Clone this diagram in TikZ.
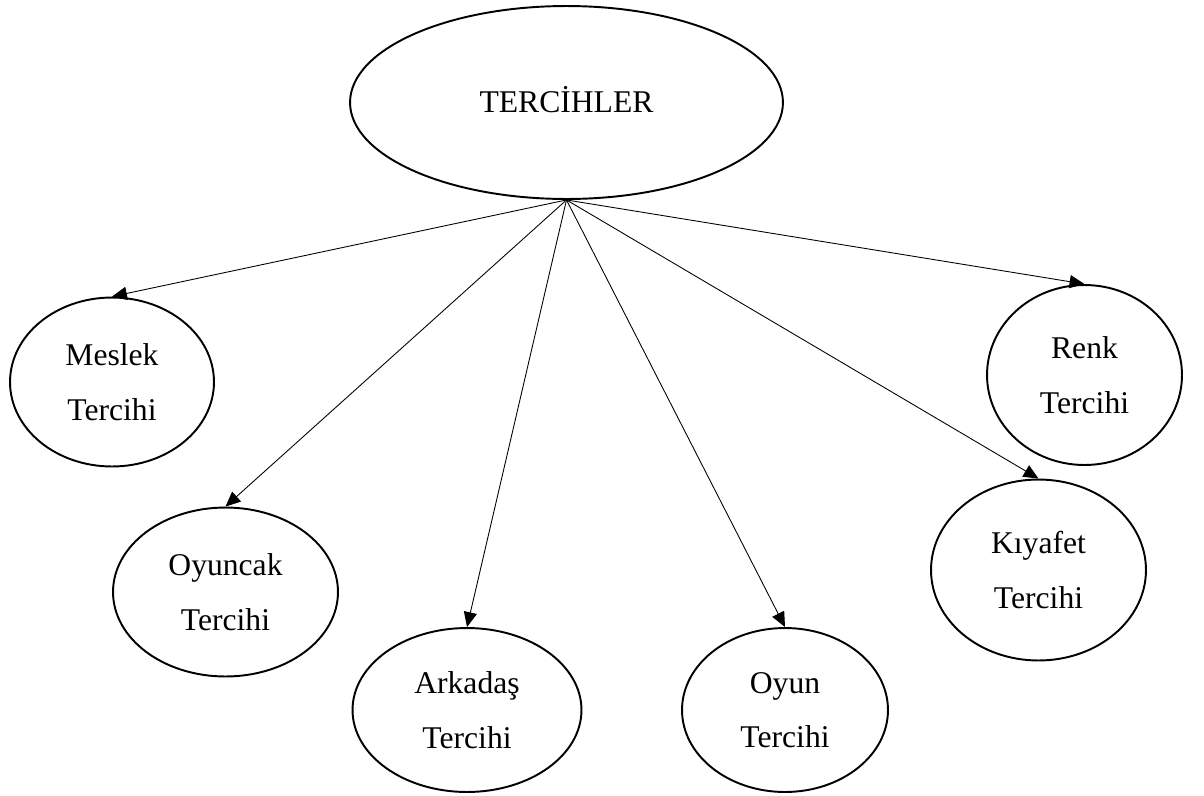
\documentclass[tikz,border=0pt]{standalone}
\usepackage{fontspec}
\setmainfont{Liberation Serif}
\usepackage{tikz}
\usetikzlibrary{shapes.geometric, arrows.meta}
\tikzstyle{root} = [ellipse, draw=black, line width=1.1pt, 
inner sep=0pt, minimum width=8.66cm, minimum height=3.86cm, 
font=\fontsize{18}{22}\selectfont]
\tikzstyle{pref} = [ellipse, draw=black, line width=1.1pt, 
inner sep=0pt, align=center, font=\fontsize{18}{31}\selectfont]
\tikzstyle{arrow} = [line width=0.5pt, 
-{Triangle[length=8.5pt, width=7.5pt]}]

\begin{document}
\begin{tikzpicture}[x=0.02cm, y=-0.02cm]
\useasboundingbox (0,0) rectangle (1204,795);

\node (top) [root] at (566.5,102.5) {\raisebox{3pt}{TERCİHLER}};

\node (meslek) [pref, minimum width=4.08cm, minimum height=3.38cm] 
at (112,382) {Meslek \\ Tercihi};
\node (oyuncak) [pref, minimum width=4.5cm, minimum height=3.38cm] 
at (225.5,592) {Oyuncak \\ Tercihi};
\node (arkadas) [pref, minimum width=4.58cm, minimum height=3.28cm] 
at (467,710) {Arkadaş \\ Tercihi};
\node (oyun) [pref, minimum width=4.12cm, minimum height=3.28cm] 
at (785,710) {Oyun \\ Tercihi};
\node (kiyafet) [pref, minimum width=4.3cm, minimum height=3.62cm] 
at (1038.5,570) {Kıyafet \\ Tercihi};
\node (renk) [pref, minimum width=3.9cm, minimum height=3.6cm] 
at (1084.5,375) {Renk \\ Tercihi};

\draw [arrow] (top.south) -- (meslek.north);
\draw [arrow] (top.south) -- (oyuncak.north);
\draw [arrow] (top.south) -- (arkadas.north);
\draw [arrow] (top.south) -- (oyun.north);
\draw [arrow] (top.south) -- (kiyafet.north);
\draw [arrow] (top.south) -- (renk.north);

\end{tikzpicture}
\end{document}
